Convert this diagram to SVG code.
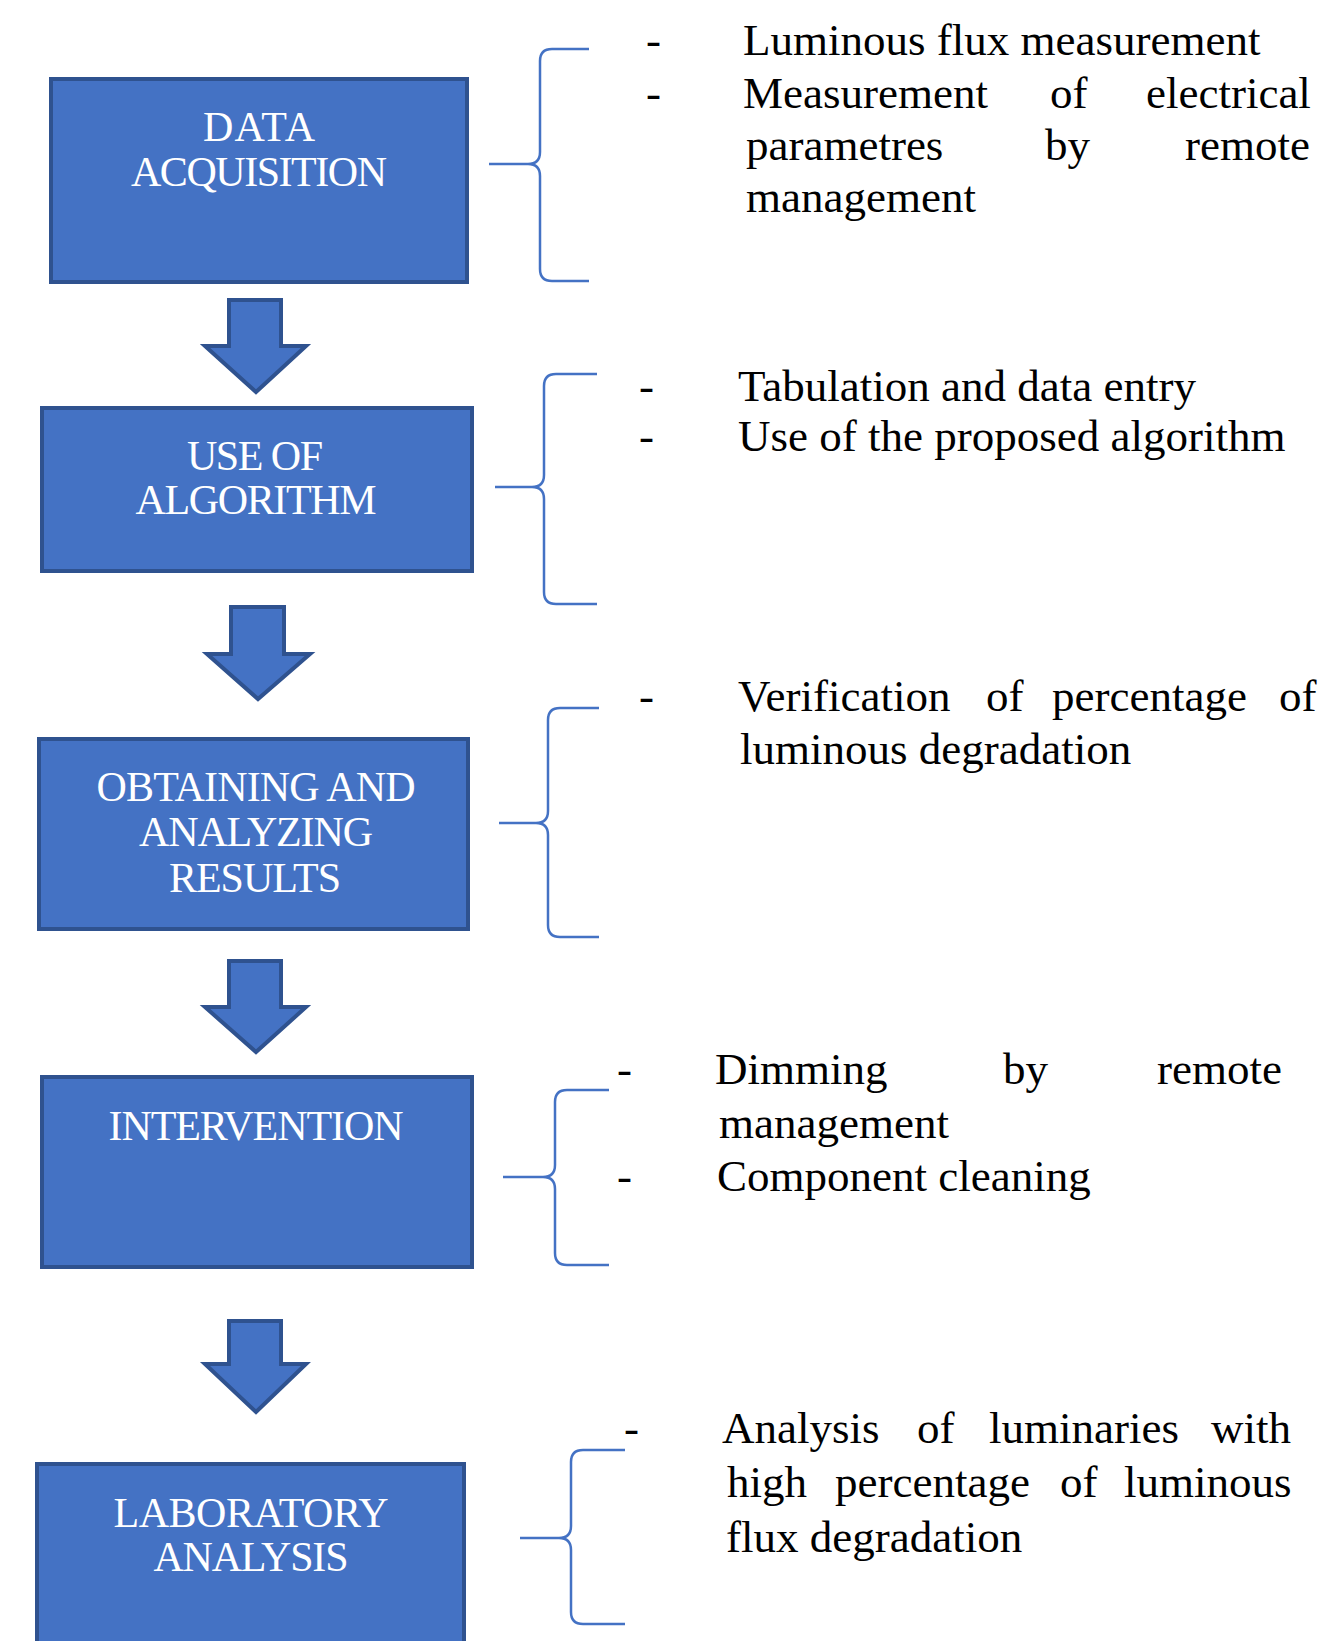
<svg xmlns="http://www.w3.org/2000/svg" width="1339" height="1641" viewBox="0 0 1339 1641">
<style>
.box{fill:#4472C4;stroke:#2F528F;stroke-width:4}
.arr{fill:#4472C4;stroke:#2F528F;stroke-width:4;stroke-linejoin:miter}
.brace{fill:none;stroke:#4472C4;stroke-width:2.5;stroke-linejoin:round}
.bt{font-family:"Liberation Serif","Times New Roman",serif;font-size:42px;fill:#FFFFFF;text-anchor:middle}
.tx{font-family:"Liberation Serif","Times New Roman",serif;font-size:45px;fill:#000000}
</style>
<rect width="1339" height="1641" fill="#FFFFFF"/>

<g id="node-data-acquisition">
<rect class="box" x="51" y="79" width="416" height="203"/>
<text class="bt" x="259" y="141" textLength="112">DATA</text>
<text class="bt" x="259" y="186" textLength="256">ACQUISITION</text>
</g>

<g id="node-use-of-algorithm">
<rect class="box" x="42" y="408" width="430" height="163"/>
<text class="bt" x="255" y="470" textLength="136">USE OF</text>
<text class="bt" x="256" y="514" textLength="241">ALGORITHM</text>
</g>

<g id="node-obtaining">
<rect class="box" x="39" y="739" width="429" height="190"/>
<text class="bt" x="256" y="801" textLength="319">OBTAINING AND</text>
<text class="bt" x="256" y="846" textLength="234">ANALYZING</text>
<text class="bt" x="255" y="892" textLength="172">RESULTS</text>
</g>

<g id="node-intervention">
<rect class="box" x="42" y="1077" width="430" height="190"/>
<text class="bt" x="256" y="1140" textLength="295">INTERVENTION</text>
</g>

<g id="node-laboratory">
<rect class="box" x="37" y="1464" width="427" height="200"/>
<text class="bt" x="251" y="1527" textLength="275">LABORATORY</text>
<text class="bt" x="251" y="1571" textLength="195">ANALYSIS</text>
</g>

<g id="connectors">
<path class="arr" d="M229,300 H281 V346 H306 L256,392 L205,346 H229 Z"/>
<path class="arr" d="M231,607 H284 V654 H310 L258,699 L207,654 H231 Z"/>
<path class="arr" d="M229,961 H281 V1007 H306 L256,1052 L205,1007 H229 Z"/>
<path class="arr" d="M229,1321 H281 V1364 H306 L256,1412 L205,1364 H229 Z"/>
</g>

<g id="braces">
<path class="brace" d="M589,49 H552 Q540,49 540,61 V152 Q540,164 528,164 H489 M528,164 Q540,164 540,176 V269 Q540,281 552,281 H589"/>
<path class="brace" d="M597,374 H556 Q544,374 544,386 V475 Q544,487 532,487 H495 M532,487 Q544,487 544,499 V592 Q544,604 556,604 H597"/>
<path class="brace" d="M599,708 H560 Q548,708 548,720 V811 Q548,823 536,823 H499 M536,823 Q548,823 548,835 V925 Q548,937 560,937 H599"/>
<path class="brace" d="M609,1090 H567 Q555,1090 555,1102 V1165 Q555,1177 543,1177 H503 M543,1177 Q555,1177 555,1189 V1253 Q555,1265 567,1265 H609"/>
<path class="brace" d="M625,1450 H583 Q571,1450 571,1462 V1526 Q571,1538 559,1538 H520 M559,1538 Q571,1538 571,1550 V1612 Q571,1624 583,1624 H625"/>
</g>

<g id="text-data-acquisition">
<text class="tx" x="646" y="55">-</text>
<text class="tx" x="743" y="55">Luminous flux measurement</text>
<text class="tx" x="646" y="108">-</text>
<text class="tx" y="108"><tspan x="743">Measurement</tspan><tspan x="1050">of</tspan><tspan x="1146">electrical</tspan></text>
<text class="tx" y="160"><tspan x="746">parametres</tspan><tspan x="1045">by</tspan><tspan x="1185">remote</tspan></text>
<text class="tx" x="746" y="212">management</text>
</g>

<g id="text-use-of-algorithm">
<text class="tx" x="639" y="401">-</text>
<text class="tx" x="738" y="401">Tabulation and data entry</text>
<text class="tx" x="639" y="451">-</text>
<text class="tx" x="738" y="451">Use of the proposed algorithm</text>
</g>

<g id="text-obtaining">
<text class="tx" x="639" y="711">-</text>
<text class="tx" y="711"><tspan x="738">Verification</tspan><tspan x="986">of</tspan><tspan x="1052">percentage</tspan><tspan x="1279">of</tspan></text>
<text class="tx" x="740" y="764">luminous degradation</text>
</g>

<g id="text-intervention">
<text class="tx" x="617" y="1084">-</text>
<text class="tx" y="1084"><tspan x="715">Dimming</tspan><tspan x="1003">by</tspan><tspan x="1157">remote</tspan></text>
<text class="tx" x="719" y="1138">management</text>
<text class="tx" x="617" y="1191">-</text>
<text class="tx" x="717" y="1191">Component cleaning</text>
</g>

<g id="text-laboratory">
<text class="tx" x="624" y="1443">-</text>
<text class="tx" y="1443"><tspan x="722">Analysis</tspan><tspan x="917">of</tspan><tspan x="989">luminaries</tspan><tspan x="1211">with</tspan></text>
<text class="tx" y="1497"><tspan x="727">high</tspan><tspan x="835">percentage</tspan><tspan x="1060">of</tspan><tspan x="1124">luminous</tspan></text>
<text class="tx" x="726" y="1552">flux degradation</text>
</g>
</svg>
